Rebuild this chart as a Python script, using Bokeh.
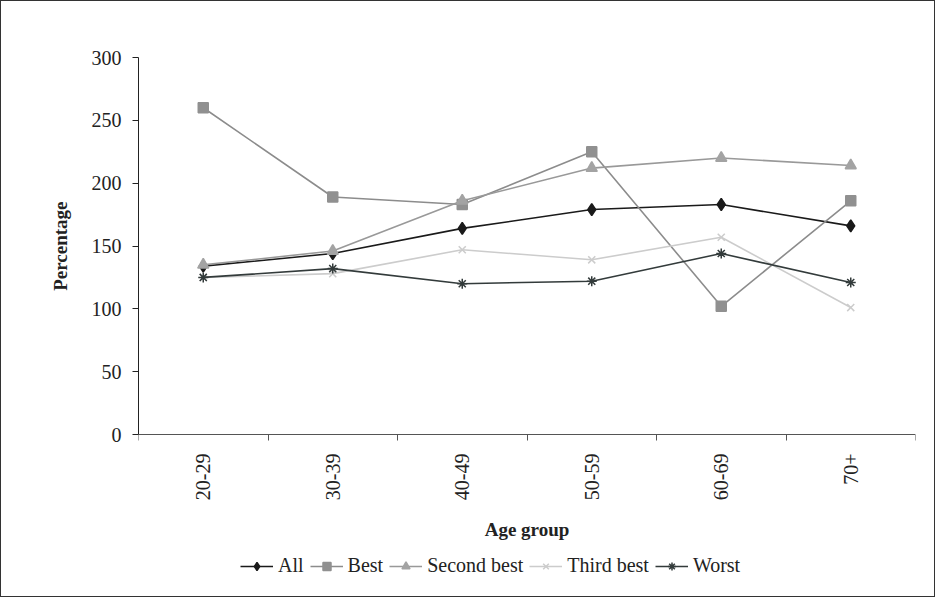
import math
from bokeh.plotting import figure
from bokeh.models import FixedTicker, Legend, LegendItem, Title
from bokeh.embed import file_html
from bokeh.resources import INLINE

age_groups = ["20-29", "30-39", "40-49", "50-59", "60-69", "70+"]
all_vals = [134, 144, 164, 179, 183, 166]
best = [260, 189, 183, 225, 102, 186]
second_best = [135, 146, 186, 212, 220, 214]
third_best = [125, 128, 147, 139, 157, 101]
worst = [125, 132, 120, 122, 144, 121]
y_ticks = [0, 50, 100, 150, 200, 250, 300]

xs = list(range(1, len(age_groups) + 1))
serif = "Liberation Serif"

# the frame runs down to the bottom so the legend can sit inside it;
# the x axis is pinned at y=0 and the value axis is 377px tall
W, H = 935, 597
top, bottom = 56, 11
frame_h = H - top - bottom
y_max = 300
y_min = y_max - frame_h * y_max / 377

p = figure(width=W, height=H, output_backend="svg", toolbar_location=None,
           x_range=(0.5, len(age_groups) + 0.5), y_range=(y_min, y_max),
           min_border_left=137, min_border_right=21, min_border_top=top, min_border_bottom=bottom)
p.styles = {"border": "1px solid #333333", "box-sizing": "border-box"}
p.outline_line_color = None
p.grid.visible = False
p.background_fill_color = "white"

# x axis: labels at the centres, ticks at the boundaries
p.xaxis.fixed_location = 0
p.xaxis.ticker = FixedTicker(ticks=xs, minor_ticks=[x - 0.5 for x in xs] + [len(xs) + 0.5])
p.xaxis.major_label_overrides = {x: lab for x, lab in zip(xs, age_groups)}
p.xaxis.major_label_orientation = math.pi / 2
p.xaxis.major_tick_out = 0
p.xaxis.major_tick_in = 0
p.xaxis.minor_tick_out = 6
p.xaxis.minor_tick_in = 0
p.xaxis.minor_tick_line_color = "#555555"
p.xaxis.axis_line_color = "#555555"
p.xaxis.axis_label = "Age group"

p.yaxis.ticker = FixedTicker(ticks=y_ticks)
p.yaxis.bounds = (0, y_max)
p.yaxis.major_tick_out = 6
p.yaxis.major_tick_in = 0
p.yaxis.minor_tick_line_color = None
p.yaxis.axis_line_color = "#222222"
p.yaxis.major_tick_line_color = "#222222"

for ax in (p.xaxis, p.yaxis):
    ax.major_label_text_font = serif
    ax.major_label_text_font_size = "20px"
    ax.major_label_text_color = "#222222"
    ax.axis_label_text_font = serif
    ax.axis_label_text_font_size = "19px"
    ax.axis_label_text_font_style = "bold"
    ax.axis_label_text_color = "#222222"
p.xaxis.major_label_standoff = 13
p.xaxis.axis_label_standoff = 16
p.yaxis.major_label_standoff = 11

# y label centred on the 0-300 part of the axis, not on the whole frame
ylab = Title(text="Percentage", align="right", offset=144, standoff=35,
             text_font=serif, text_font_size="19px", text_font_style="bold",
             text_color="#222222")
p.add_layout(ylab, "left")

series = [
    ("All", all_vals, "#1a1a1a", "diamond", "#1a1a1a", 12),
    ("Best", best, "#8c8c8c", "square", "#909090", 10),
    ("Second best", second_best, "#999999", "triangle", "#a3a3a3", 11),
    ("Third best", third_best, "#cccccc", "x", "#cccccc", 10),
    ("Worst", worst, "#333b3b", "asterisk", "#333b3b", 10),
]

items = []
for name, vals, lc, marker, mc, size in series:
    r1 = p.line(xs, vals, line_color=lc, line_width=1.6)
    r2 = p.scatter(xs, vals, marker=marker, size=size, fill_color=mc, line_color=mc, line_width=1.5)
    items.append(LegendItem(label=name, renderers=[r1, r2]))

legend = Legend(items=items, orientation="horizontal", location=(102, 10),
                label_text_font=serif, label_text_font_size="20px", label_text_color="#222222",
                glyph_width=33, glyph_height=20, label_standoff=5, spacing=6,
                padding=0, margin=0, border_line_color=None, background_fill_alpha=0)
p.add_layout(legend)

open("out.html", "w").write(file_html(p, INLINE))
